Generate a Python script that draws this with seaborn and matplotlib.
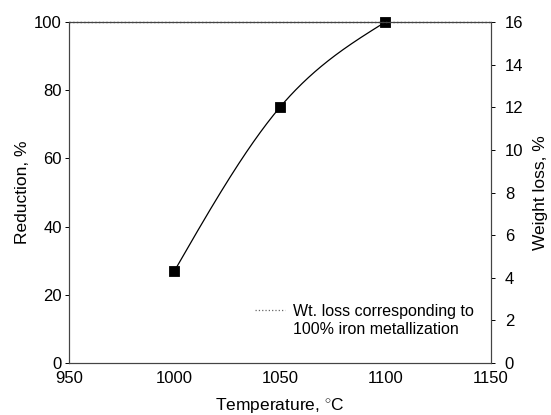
import numpy as np
import pandas as pd
import matplotlib
matplotlib.use("Agg")
import matplotlib.pyplot as plt
import seaborn as sns
from matplotlib.lines import Line2D

# Data
temperature = [1000, 1050, 1100]
reduction = [27, 75, 100]
metallization_wt_loss = 16  # weight-loss % for 100% iron metallization
x_ticks = [950, 1000, 1050, 1100, 1150]
y_left_ticks = [0, 20, 40, 60, 80, 100]
y_right_ticks = [0, 2, 4, 6, 8, 10, 12, 14, 16]

sns.set_theme(style="white")
plt.rcParams['font.family'] = ['Liberation Sans', 'DejaVu Sans']
plt.rcParams['mathtext.fontset'] = 'custom'
plt.rcParams['mathtext.rm'] = 'Liberation Sans'
plt.rcParams['text.color'] = 'black'
plt.rcParams['axes.labelcolor'] = 'black'

df = pd.DataFrame({"Temperature": temperature, "Reduction": reduction})


def natural_spline(x, y, xs):
    x = np.asarray(x, float)
    y = np.asarray(y, float)
    n = len(x)
    h = np.diff(x)
    A = np.zeros((n, n))
    rhs = np.zeros(n)
    A[0, 0] = A[-1, -1] = 1.0
    for i in range(1, n - 1):
        A[i, i - 1] = h[i - 1]
        A[i, i] = 2 * (h[i - 1] + h[i])
        A[i, i + 1] = h[i]
        rhs[i] = 6 * ((y[i + 1] - y[i]) / h[i] - (y[i] - y[i - 1]) / h[i - 1])
    M = np.linalg.solve(A, rhs)
    out = np.empty_like(xs)
    for k, xv in enumerate(xs):
        i = min(max(np.searchsorted(x, xv) - 1, 0), n - 2)
        a = x[i + 1] - xv
        b = xv - x[i]
        out[k] = (M[i] * a**3 / (6 * h[i]) + M[i + 1] * b**3 / (6 * h[i])
                  + (y[i] / h[i] - M[i] * h[i] / 6) * a
                  + (y[i + 1] / h[i] - M[i + 1] * h[i] / 6) * b)
    return out


xs = np.linspace(min(temperature), max(temperature), 300)
smooth = pd.DataFrame({"Temperature": xs,
                       "Reduction": natural_spline(temperature, reduction, xs)})

fig = plt.figure(figsize=(5.51, 4.15), dpi=100)
ax = fig.add_axes([0.125, 0.125, 0.766, 0.822])

sns.lineplot(data=smooth, x="Temperature", y="Reduction", ax=ax,
             color="black", linewidth=0.9)
sns.scatterplot(data=df, x="Temperature", y="Reduction", ax=ax,
                marker="s", s=55, color="black", edgecolor="black", zorder=5,
                clip_on=False)

ax.set_xlim(950, 1150)
ax.set_ylim(0, 100)
ax.set_xticks(x_ticks)
ax.set_yticks(y_left_ticks)
ax.set_xlabel("Temperature, $^{\\circ}$C", fontsize=12.5, labelpad=7)
ax.set_ylabel("Reduction, %", fontsize=12.5, labelpad=3)
ax.tick_params(axis="both", labelsize=12, colors="black")
ax.tick_params(axis="y", direction="out", length=3, width=0.7, pad=2)
ax.tick_params(axis="x", direction="in", length=3, width=0.7, pad=6)

ax2 = ax.twinx()
ax2.set_ylim(0, 16)
ax2.set_yticks(y_right_ticks)
ax2.axhline(metallization_wt_loss, color="#444444", linestyle=":", linewidth=1.0,
            clip_on=False)
ax2.set_ylabel("Weight loss, %", fontsize=12.5, labelpad=7)
ax2.tick_params(axis="y", direction="out", length=3, width=0.7, pad=7,
                labelsize=12, colors="black")

for a in (ax, ax2):
    for s in a.spines.values():
        s.set_color("#444444")
        s.set_linewidth(0.8)

handles = [Line2D([], [], color="#666666", linestyle=":", linewidth=0.9),
           Line2D([], [], color="none")]
labels = ["Wt. loss corresponding to", "100% iron metallization"]
ax.legend(handles, labels, loc="center left", bbox_to_anchor=(0.441, 0.126),
          frameon=False, fontsize=11.5, handlelength=1.9, handletextpad=0.5,
          borderpad=0, borderaxespad=0, labelspacing=0.2, labelcolor="black")

fig.savefig("out.png", dpi=100)
